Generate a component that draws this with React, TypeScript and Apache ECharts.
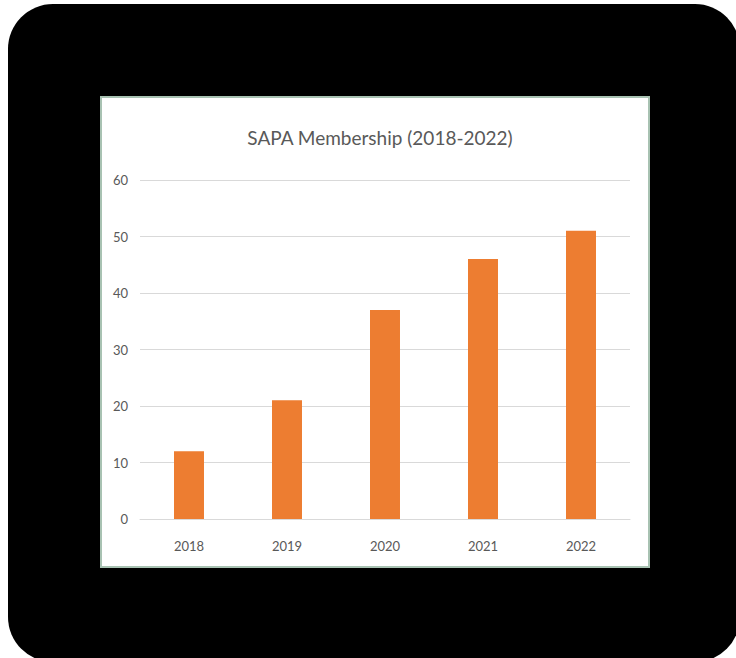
import React, { useEffect, useRef } from "react";
import * as echarts from "echarts";

const categories = ["2018", "2019", "2020", "2021", "2022"];
const members = [12, 21, 37, 46, 51];
const yTicks = [0, 10, 20, 30, 40, 50, 60];
const titleText = "SAPA Membership (2018-2022)";

const FONT = "Lato, 'Liberation Sans', sans-serif";

export default function App() {
  const ref = useRef<HTMLDivElement>(null);
  useEffect(() => {
    if (!ref.current) return;
    const chart = echarts.init(ref.current, null, { renderer: "svg" });
    chart.setOption({
      animation: false,
      backgroundColor: "#ffffff",
      graphic: [
        {
          type: "rect",
          z: -10,
          silent: true,
          shape: { x: 8, y: 4, width: 732, height: 658, r: 45 },
          style: { fill: "#000000" },
        },
        {
          type: "rect",
          z: -9,
          silent: true,
          shape: { x: 101, y: 97, width: 548, height: 470 },
          style: { fill: "#ffffff", stroke: "#a8c2b2", lineWidth: 2 },
        },
      ],
      title: {
        text: titleText,
        left: 375,
        top: 123,
        textAlign: "center",
        textStyle: {
          fontFamily: FONT,
          fontSize: 19,
          fontWeight: "normal",
          color: "#595959",
        },
      },
      grid: { left: 140, right: 106, top: 180, bottom: 139 },
      xAxis: {
        type: "category",
        data: categories,
        axisLine: { show: true, lineStyle: { color: "#d9d9d9", width: 1 } },
        axisTick: { show: false },
        axisLabel: {
          color: "#595959",
          fontFamily: FONT,
          fontSize: 13,
          margin: 20,
        },
      },
      yAxis: {
        type: "value",
        min: yTicks[0],
        max: yTicks[yTicks.length - 1],
        interval: 10,
        axisLine: { show: false },
        axisTick: { show: false },
        splitLine: { lineStyle: { color: "#d9d9d9", width: 1 } },
        axisLabel: {
          color: "#595959",
          fontFamily: FONT,
          fontSize: 13,
          margin: 12,
        },
      },
      series: [
        {
          type: "bar",
          data: members,
          barWidth: "30.6%",
          itemStyle: { color: "#ED7D31" },
        },
      ],
    });
    return () => chart.dispose();
  }, []);
  return (
    <div
      ref={ref}
      style={{ position: "absolute", left: 0, top: 0, width: 736, height: 658 }}
    />
  );
}
